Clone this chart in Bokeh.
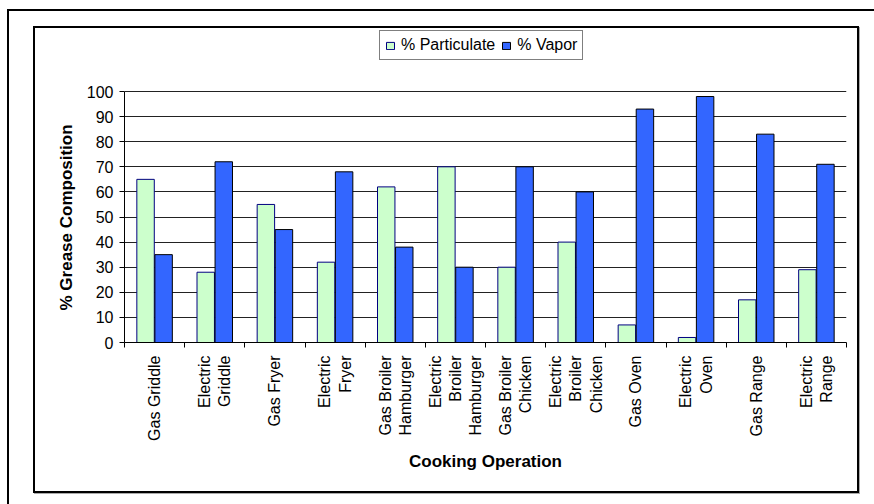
from bokeh.plotting import figure
from bokeh.models import (Range1d, LinearAxis, FixedTicker, InlineStyleSheet, Title,
                          ColumnDataSource, Legend, LegendItem)
from bokeh.embed import file_html
from bokeh.resources import INLINE
import math

categories = ["Gas Griddle", "Electric\nGriddle", "Gas Fryer", "Electric\nFryer",
              "Gas Broiler\nHamburger", "Electric\nBroiler\nHamburger",
              "Gas Broiler\nChicken", "Electric\nBroiler\nChicken", "Gas Oven",
              "Electric\nOven", "Gas Range", "Electric\nRange"]
particulate = [65, 28, 55, 32, 62, 70, 30, 40, 7, 2, 17, 29]
vapor = [35, 72, 45, 68, 38, 30, 70, 60, 93, 98, 83, 71]
y_ticks = list(range(0, 101, 10))
series_names = ["% Particulate", "% Vapor"]
y_title = "% Grease Composition"
x_title = "Cooking Operation"

FONT = "Liberation Sans"
n = len(categories)
centers = [i + 0.5 for i in range(n)]
offset = 0.15

src = ColumnDataSource(dict(xp=[c - offset for c in centers], xv=[c + offset for c in centers],
                            p=particulate, v=vapor))

frames_css = InlineStyleSheet(css="""
:host::before {
  content: ""; position: absolute; box-sizing: border-box;
  left: 7px; top: 9px; width: 867px; height: 495px;
  border-top: 2px solid #000; border-left: 2px solid #000;
  pointer-events: none; z-index: 5;
}
:host::after {
  content: ""; position: absolute; box-sizing: border-box;
  left: 33px; top: 26px; width: 826px; height: 467px;
  border: 2px solid #000; box-shadow: 1px 1px 0 #aaa;
  pointer-events: none; z-index: 5;
}
""")

# frame spans y=28..342 px; the 0..100 scale occupies 91..342 px, headroom keeps the legend inside the frame
Y_TOP = 125.1

p = figure(width=874, height=504, x_range=Range1d(0, n), y_range=Range1d(0, Y_TOP),
           x_axis_location=None, output_backend="svg", toolbar_location=None,
           min_border_left=124, min_border_right=28, min_border_top=28, min_border_bottom=162,
           stylesheets=[frames_css])
p.outline_line_color = None
p.background_fill_color = "white"
p.border_fill_color = "white"

tick_axis = LinearAxis(ticker=FixedTicker(ticks=list(range(n + 1))),
                       major_tick_in=0, major_tick_out=5, minor_tick_line_color=None,
                       axis_line_color="black", major_tick_line_color="black",
                       major_label_text_alpha=0, major_label_text_font_size="1px",
                       major_label_standoff=0)
p.add_layout(tick_axis, "below")

cat_axis = LinearAxis(ticker=FixedTicker(ticks=centers),
                      major_label_overrides={c: lab for c, lab in zip(centers, categories)},
                      axis_line_color=None, major_tick_line_color=None, minor_tick_line_color=None,
                      major_tick_in=0, major_tick_out=0,
                      major_label_orientation=math.pi / 2,
                      major_label_standoff=8,
                      major_label_text_font=FONT, major_label_text_font_size="16px",
                      major_label_text_color="black",
                      axis_label=x_title, axis_label_text_font=FONT,
                      axis_label_text_font_size="17px", axis_label_text_font_style="bold",
                      axis_label_text_color="black", axis_label_standoff=8)
p.add_layout(cat_axis, "below")

yax = p.yaxis[0]
yax.ticker = FixedTicker(ticks=y_ticks)
yax.bounds = (0, 100)
yax.major_tick_in = 0
yax.major_tick_out = 5
yax.minor_tick_line_color = None
yax.axis_line_color = "black"
yax.major_tick_line_color = "black"
yax.major_label_standoff = 6
yax.major_label_text_font = FONT
yax.major_label_text_font_size = "16px"
yax.major_label_text_color = "black"

ytitle = Title(text=y_title, align="left", offset=32, standoff=15,
               text_font=FONT, text_font_size="17px", text_font_style="bold",
               text_color="black")
p.add_layout(ytitle, "left")

p.ygrid.grid_line_color = "#222222"
p.ygrid.grid_line_width = 1
p.ygrid.ticker = FixedTicker(ticks=y_ticks[1:])
for g in p.xgrid:
    g.visible = False

r1 = p.vbar(x="xp", top="p", width=0.29, source=src,
            fill_color="#CCFFCC", line_color="#000080", line_width=1)
r2 = p.vbar(x="xv", top="v", width=0.29, source=src,
            fill_color="#3366FF", line_color="#000000", line_width=1)

legend = Legend(items=[LegendItem(label=series_names[0], renderers=[r1]),
                       LegendItem(label=series_names[1], renderers=[r2])],
                orientation="horizontal", location=(255, 282), margin=0, padding=5,
                spacing=6, glyph_width=10, glyph_height=9, label_standoff=6,
                label_text_font=FONT, label_text_font_size="16px", label_text_color="black",
                border_line_color="black", border_line_width=1, background_fill_alpha=1)
p.add_layout(legend, "center")

open("out.html", "w").write(file_html(p, INLINE))
